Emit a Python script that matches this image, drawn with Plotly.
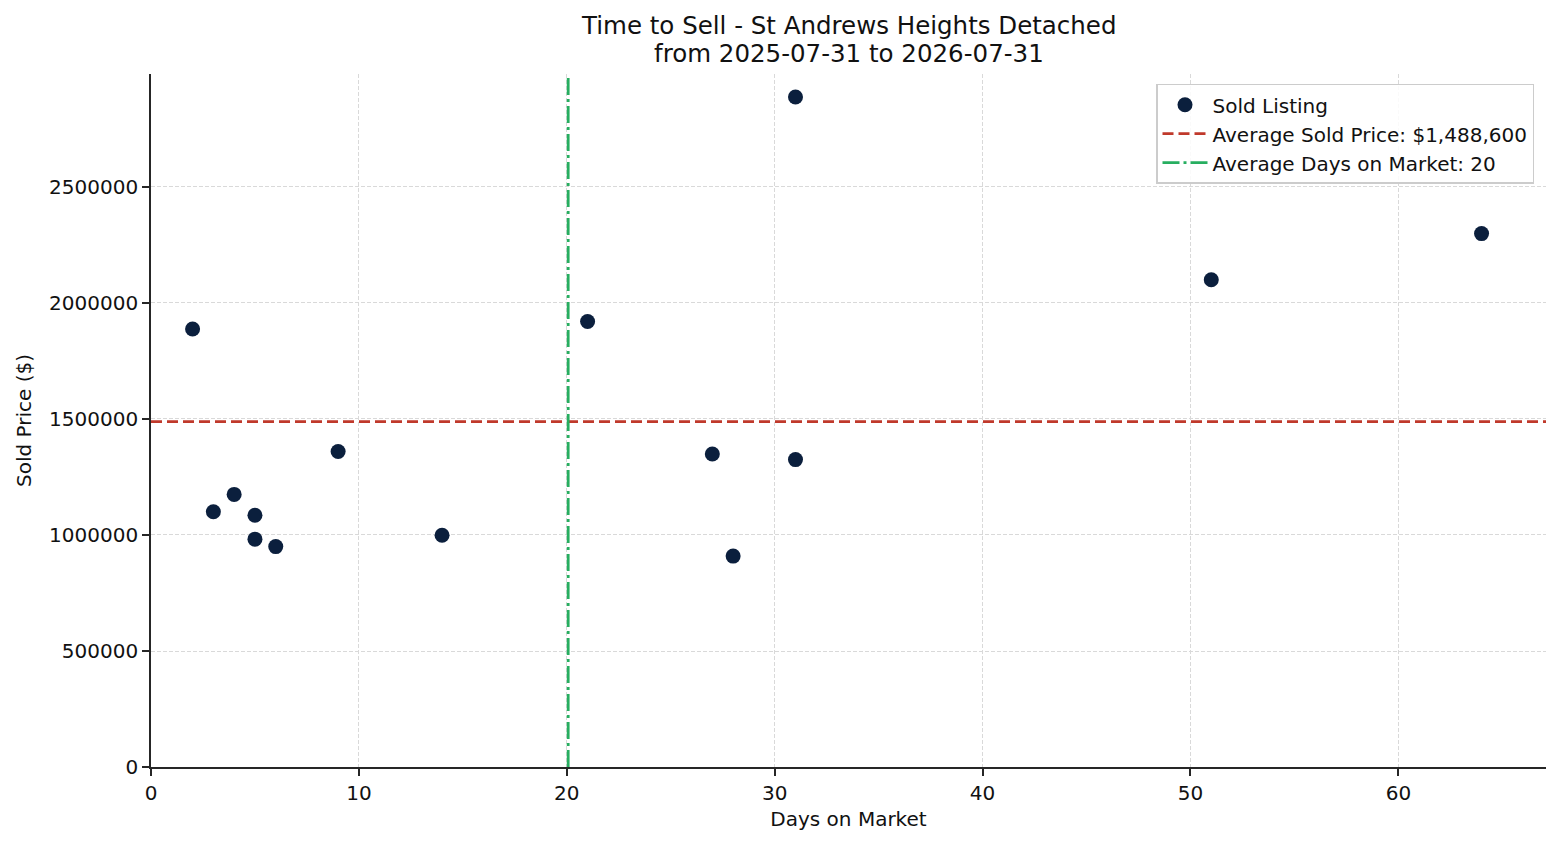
import plotly.graph_objects as go

# sold listings
days_on_market = [2, 3, 4, 5, 5, 6, 9, 14, 21, 27, 28, 31, 31, 51, 64]
sold_price = [1888000, 1100000, 1175000, 1085000, 982000, 950000, 1360000, 999000,
              1920000, 1349000, 909000, 1325000, 2888000, 2100000, 2299000]

title_main = "Time to Sell - St Andrews Heights Detached"
title_sub = "from 2025-07-31 to 2026-07-31"

avg_price = sum(sold_price) / len(sold_price)
avg_days = sum(days_on_market) / len(days_on_market)

# matplotlib-like autoscale (5% margin) with the lower limit pinned at 0
x_max = max(days_on_market) + 0.05 * (max(days_on_market) - min(days_on_market))
y_max = max(sold_price) + 0.05 * (max(sold_price) - min(sold_price))

NAVY = "#0b1f3d"
RED = "#c0392b"
GREEN = "#27ae60"
FONT = "DejaVu Sans"

fig = go.Figure()

fig.add_trace(go.Scatter(x=days_on_market, y=sold_price, mode="markers", name="Sold Listing",
                         marker=dict(color=NAVY, size=15, line=dict(width=0))))

fig.add_trace(go.Scatter(x=[0, x_max], y=[avg_price, avg_price], mode="lines",
                         name=f"Average Sold Price: ${avg_price:,.0f}",
                         line=dict(color=RED, width=2.8, dash="11px,5px")))

fig.add_trace(go.Scatter(x=[avg_days, avg_days], y=[0, y_max], mode="lines",
                         name=f"Average Days on Market: {avg_days:.0f}",
                         line=dict(color=GREEN, width=2.8, dash="17px,4px,3px,4px")))

axis_common = dict(
    showline=True, linecolor="#262626", linewidth=1.6,
    ticks="outside", ticklen=7, tickwidth=1.6, tickcolor="#262626",
    showgrid=True, gridcolor="#d9d9d9", gridwidth=0.8, griddash="4px,2px",
    zeroline=False, mirror=False,
    tickfont=dict(family=FONT, size=20, color="#111111"),
)

# two-line title placed above the plot area
for txt, ypos in [(title_main, 1.0707), (title_sub, 1.0303)]:
    fig.add_annotation(text=txt, xref="paper", yref="paper", x=0.5, y=ypos,
                       xanchor="center", yanchor="middle", showarrow=False,
                       font=dict(family=FONT, size=24.5, color="#111111"))

fig.update_layout(
    width=1544, height=829,
    paper_bgcolor="white", plot_bgcolor="white",
    margin=dict(l=143, r=6, t=66, b=70),
    font=dict(family=FONT, size=20, color="#111111"),
    xaxis=dict(range=[0, x_max], dtick=10,
               title=dict(text="Days on Market", standoff=8,
                          font=dict(family=FONT, size=20)),
               **axis_common),
    yaxis=dict(range=[0, y_max], dtick=500000, tickformat="d",
               title=dict(text="Sold Price ($)", standoff=12,
                          font=dict(family=FONT, size=20)),
               **axis_common),
    legend=dict(x=0.9914, xanchor="right", y=0.986, yanchor="top",
                bgcolor="rgba(255,255,255,0.85)", bordercolor="#cccccc", borderwidth=1.5,
                font=dict(family=FONT, size=20, color="#111111"),
                tracegroupgap=0, itemwidth=45),
    showlegend=True,
)

fig.write_html("out.html")
